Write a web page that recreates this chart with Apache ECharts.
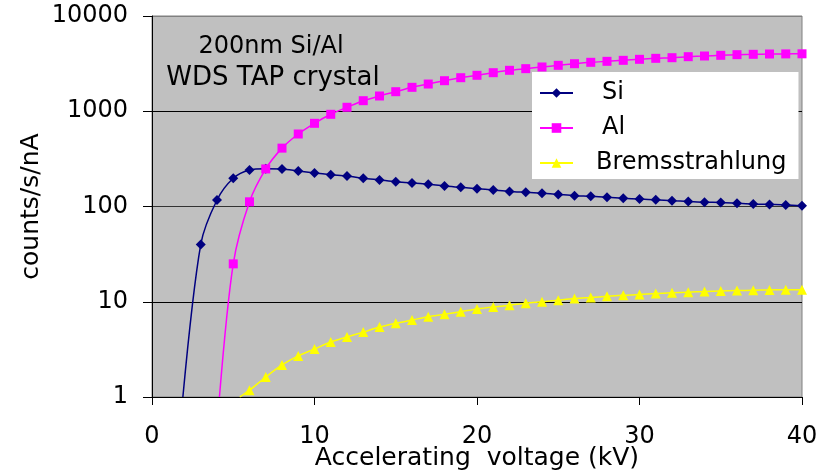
<!DOCTYPE html>
<html>
<head>
<meta charset="utf-8">
<script src="https://cdn.jsdelivr.net/npm/echarts@6/dist/echarts.min.js"></script>
<style>
html,body{margin:0;padding:0;background:#fff;}
#c{width:825px;height:474px;}
</style>
</head>
<body>
<div id="c"></div>
<script>
// Accelerating voltage (kV) for each series; first entry is where the curve leaves the axis (no marker)
var siX = [1.9, 3, 4, 5, 6, 7, 8, 9, 10, 11, 12, 13, 14, 15, 16, 17, 18, 19, 20, 21, 22, 23, 24, 25, 26, 27, 28, 29, 30, 31, 32, 33, 34, 35, 36, 37, 38, 39, 40];
var siY = [1, 40, 117, 198, 242, 249, 248, 236, 225, 216, 209, 198, 190, 182, 177, 171, 164, 159, 154, 149, 144, 141, 138, 134, 130, 128, 125, 122, 120, 118, 115, 113, 111, 110, 108, 106, 105, 104, 102];

var alX = [4.15, 5, 6, 7, 8, 9, 10, 11, 12, 13, 14, 15, 16, 17, 18, 19, 20, 21, 22, 23, 24, 25, 26, 27, 28, 29, 30, 31, 32, 33, 34, 35, 36, 37, 38, 39, 40];
var alY = [1, 25, 112, 248, 410, 577, 747, 929, 1101, 1291, 1446, 1604, 1783, 1931, 2093, 2250, 2385, 2540, 2690, 2800, 2916, 3036, 3156, 3264, 3343, 3424, 3509, 3594, 3649, 3740, 3802, 3866, 3926, 3960, 3990, 4000, 4010];

var brX = [5.4, 6, 7, 8, 9, 10, 11, 12, 13, 14, 15, 16, 17, 18, 19, 20, 21, 22, 23, 24, 25, 26, 27, 28, 29, 30, 31, 32, 33, 34, 35, 36, 37, 38, 39, 40];
var brY = [1, 1.18, 1.62, 2.17, 2.7, 3.19, 3.78, 4.27, 4.8, 5.43, 5.94, 6.43, 6.97, 7.38, 7.87, 8.39, 8.81, 9.18, 9.63, 10.0, 10.4, 10.8, 11.1, 11.4, 11.7, 11.9, 12.2, 12.4, 12.6, 12.8, 13.0, 13.1, 13.2, 13.3, 13.4, 13.4];

var seriesNames = ['Si', 'Al', 'Bremsstrahlung'];
var titleLines = ['200nm Si/Al', 'WDS TAP crystal'];
var xTicks = [0, 10, 20, 30, 40];
var yTicks = [1, 10, 100, 1000, 10000];

function pts(xs, ys) {
  return xs.map(function (x, i) {
    if (i === 0) return { value: [x, ys[i]], symbol: 'none' };
    return [x, ys[i]];
  });
}

var FONT = 'DejaVu Sans';
var chart = echarts.init(document.getElementById('c'), null, { renderer: 'canvas' });
chart.setOption({
  animation: false,
  backgroundColor: '#ffffff',
  grid: {
    left: 152, right: 23, top: 16, bottom: 77,
    containLabel: false, outerBoundsMode: 'none',
    show: true, backgroundColor: '#c0c0c0', borderColor: '#808080', borderWidth: 1
  },
  graphic: [
    { type: 'text', z: 100, x: 271, y: 47,
      style: { text: titleLines[0], align: 'center', verticalAlign: 'middle',
               textAlign: 'center', textVerticalAlign: 'middle',
               font: '24px "DejaVu Sans"', fill: '#000' } },
    { type: 'text', z: 100, x: 273, y: 78,
      style: { text: titleLines[1], align: 'center', verticalAlign: 'middle',
               textAlign: 'center', textVerticalAlign: 'middle',
               font: '26px "DejaVu Sans"', fill: '#000' } }
  ],
  legend: {
    orient: 'vertical',
    left: 532, top: 72,
    backgroundColor: '#ffffff',
    padding: [9, 12, 4, 7],
    itemWidth: 33, itemHeight: 12, itemGap: 11,
    textStyle: { fontFamily: FONT, fontSize: 24, color: '#000', lineHeight: 24 },
    data: [
      { name: seriesNames[0], textStyle: { padding: [0, 0, 0, 24] } },
      { name: seriesNames[1], textStyle: { padding: [0, 0, 0, 24] } },
      { name: seriesNames[2], textStyle: { padding: [0, 0, 0, 18] } }
    ]
  },
  xAxis: {
    type: 'value', min: xTicks[0], max: xTicks[xTicks.length - 1], interval: 10,
    name: 'Accelerating  voltage (kV)', nameLocation: 'middle', nameGap: 49,
    nameMoveOverlap: false,
    nameTextStyle: { fontFamily: FONT, fontSize: 25, color: '#000' },
    axisLine: { onZero: false, lineStyle: { color: '#000', width: 1 } },
    axisTick: { show: true, length: 8, lineStyle: { color: '#000' } },
    axisLabel: { fontFamily: FONT, fontSize: 24, color: '#000', margin: 28 },
    splitLine: { show: false }
  },
  yAxis: {
    type: 'log', logBase: 10, min: yTicks[0], max: yTicks[yTicks.length - 1],
    name: 'counts/s/nA', nameLocation: 'middle', nameGap: 108,
    nameMoveOverlap: false,
    nameTextStyle: { fontFamily: FONT, fontSize: 25, color: '#000' },
    axisLine: { show: true, lineStyle: { color: '#000', width: 1 } },
    axisTick: { show: true, length: 9, lineStyle: { color: '#000' } },
    axisLabel: { fontFamily: FONT, fontSize: 24, color: '#000', margin: 24,
                 formatter: function (v) { return String(Math.round(v)); } },
    splitLine: { show: true, lineStyle: { color: ['#000', '#000', '#333', '#000', '#808080'], width: 1 } }
  },
  series: [
    {
      name: seriesNames[0], type: 'line', data: pts(siX, siY),
      smooth: 0.3, symbol: 'diamond', symbolSize: 10, clip: true,
      lineStyle: { color: '#000080', width: 1.5 }, itemStyle: { color: '#000080' }
    },
    {
      name: seriesNames[1], type: 'line', data: pts(alX, alY),
      smooth: 0.3, symbol: 'rect', symbolSize: 9, clip: true,
      lineStyle: { color: '#ff00ff', width: 1.5 }, itemStyle: { color: '#ff00ff' }
    },
    {
      name: seriesNames[2], type: 'line', data: pts(brX, brY),
      smooth: 0.3, symbol: 'triangle', symbolSize: 10, clip: true,
      lineStyle: { color: '#ffff00', width: 1.5 }, itemStyle: { color: '#ffff00' }
    }
  ]
});
</script>
</body>
</html>
